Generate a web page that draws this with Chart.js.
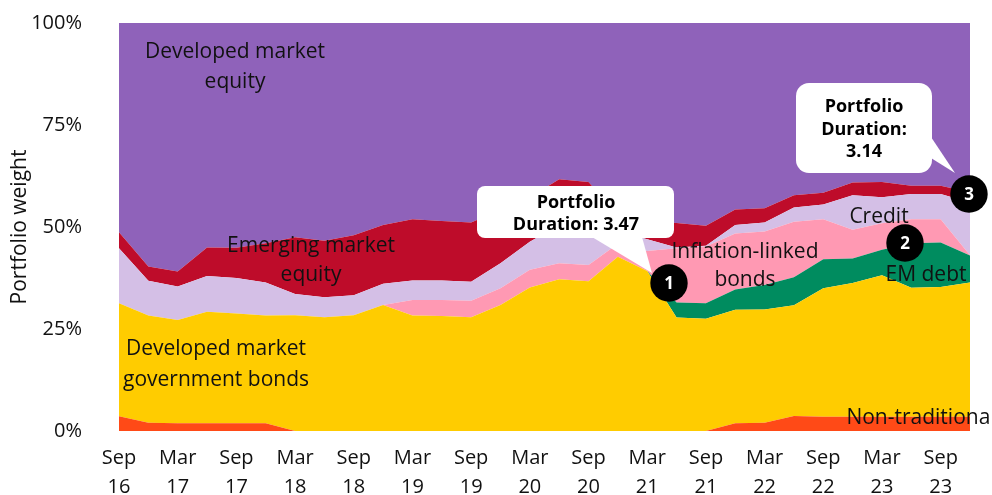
<!DOCTYPE html>
<html><head><meta charset="utf-8">
<style>html,body{margin:0;padding:0;background:#fff}#w{position:relative;width:992px;height:495px}</style>
<script src="https://cdn.jsdelivr.net/npm/chart.js@4"></script></head>
<body><div id="w"><canvas id="c" width="992" height="495"></canvas></div>
<script>
const categories=['Sep 16','Dec 16','Mar 17','Jun 17','Sep 17','Dec 17','Mar 18','Jun 18','Sep 18','Dec 18','Mar 19','Jun 19','Sep 19','Dec 19','Mar 20','Jun 20','Sep 20','Dec 20','Mar 21','Jun 21','Sep 21','Dec 21','Mar 22','Jun 22','Sep 22','Dec 22','Mar 23','Jun 23','Sep 23','Dec 23'];
const nonTraditional=[3.6,2.0,1.9,1.9,1.9,1.9,0,0,0,0,0,0,0,0,0,0,0,0,0,0,0,1.9,2.0,3.7,3.5,3.5,3.5,3.5,3.5,3.5];
const dmGovBonds=[27.7,26.3,25.3,27.3,26.9,26.4,28.4,27.9,28.4,30.9,28.3,28.2,27.9,30.9,35.2,37.2,36.7,42.7,39.2,27.8,27.5,27.8,27.8,27.1,31.5,32.8,34.7,31.6,31.8,32.9];
const emDebt=[0,0,0,0,0,0,0,0,0,0,0,0,0,0,0,0,0,0,0,3.7,3.8,5.0,6.0,6.9,7.1,6.0,6.2,10.9,10.9,6.6];
const inflationLinked=[0,0,0,0,0,0,0,0,0,0,3.8,3.9,4.0,4.1,4.3,3.9,4.0,3.2,4.9,13.3,13.9,13.7,13.1,13.6,9.8,7.0,6.5,5.9,5.7,0.1];
const credit=[13.5,8.5,8.2,8.8,8.7,8.1,5.2,4.9,4.9,5.2,4.8,4.8,4.7,6.1,6.9,9.4,9.8,3.1,2.9,0.2,0.2,2.1,2.2,3.5,3.6,8.5,6.4,6.2,6.2,12.9];
const emEquity=[3.9,3.5,3.7,7,7.4,9.6,13.9,13.8,14.7,14.4,15,14.6,14.5,13.1,10.9,11.2,10.5,4,4.5,6,4.9,3.8,3.5,3,2.9,3.1,3.7,2,2,2.5];
const dmEquity=[51.3,59.7,60.9,55,55.1,54,52.5,53.4,52,49.5,48.1,48.5,48.9,45.8,42.7,38.3,39,47,48.5,49,49.7,45.7,45.4,42.2,41.6,39.1,39,39.9,39.9,41.5];
const yTicks=[0,25,50,75,100];

const series=[
 ['Non-traditional',nonTraditional,'#FF4A17'],
 ['Developed market government bonds',dmGovBonds,'#FFCC00'],
 ['EM debt',emDebt,'#008C5F'],
 ['Inflation-linked bonds',inflationLinked,'#FF99B3'],
 ['Credit',credit,'#D4BFE6'],
 ['Emerging market equity',emEquity,'#BE0C2A'],
 ['Developed market equity',dmEquity,'#8F62BA']
];
const labelFont='21px "Open Sans", sans-serif';
const areaLabels=[
 ['Developed market',235,52.5],['equity',235,82.5],
 ['Emerging market',311,246.5],['equity',311,275.5],
 ['Developed market',216,349.5],['government bonds',216,380.5],
 ['Inflation-linked',745,252.5],['bonds',745,280.5],
 ['Credit',879,217.5],['EM debt',926,275.5],['Non-traditional',921,418.5]
];
function rr(ctx,x,y,w,h,r){ctx.beginPath();ctx.roundRect(x,y,w,h,r);ctx.fill();}
const overlay={id:'overlay',afterDatasetsDraw(ch){
 const c=ch.ctx;c.save();
 c.fillStyle='#111';c.font=labelFont;c.textAlign='center';c.textBaseline='middle';
 areaLabels.forEach(l=>c.fillText(l[0],l[1],l[2]));
 c.fillStyle='#fff';
 rr(c,477,186,197,52,8);
 c.beginPath();c.moveTo(592,237);c.lineTo(652,273);c.lineTo(642,237);c.closePath();c.fill();
 rr(c,796,83,136,90,13);
 c.beginPath();c.moveTo(931,137);c.lineTo(955,173);c.lineTo(931,158);c.closePath();c.fill();
 c.fillStyle='#000';c.font='bold 18px "Open Sans", sans-serif';
 c.fillText('Portfolio',576,203);c.fillText('Duration: 3.47',576,225);
 c.fillText('Portfolio',864,107);c.fillText('Duration:',864,130);c.fillText('3.14',864,152);
 [[669,283,'1'],[905,243,'2'],[969,194,'3']].forEach(b=>{
  c.fillStyle='#000';c.beginPath();c.arc(b[0],b[1],18.7,0,Math.PI*2);c.fill();
  c.fillStyle='#fff';c.font='bold 17px "Open Sans", sans-serif';c.fillText(b[2],b[0],b[1]+1);
 });
 c.restore();
}};
new Chart(document.getElementById('c'),{
 type:'line',
 data:{labels:categories,datasets:series.map((s,i)=>({label:s[0],data:s[1],backgroundColor:s[2],borderColor:s[2],borderWidth:0,pointRadius:0,tension:0,fill:i===0?'origin':'-1'}))},
 options:{responsive:false,animation:false,
  layout:{padding:{top:23,right:22,left:0,bottom:0}},
  plugins:{legend:{display:false},tooltip:{enabled:false}},
  scales:{
   x:{stacked:true,offset:false,grid:{display:false,drawTicks:false},border:{display:false},
    afterFit(a){a.height=64;a.paddingLeft=0;a.paddingRight=0;},
    ticks:{autoSkip:false,maxRotation:0,minRotation:0,padding:13,color:'#111',font:{family:'"Open Sans", sans-serif',size:20,lineHeight:1.45},
     callback(v,i){return i%2===0?categories[i].split(' '):'';}}},
   y:{stacked:true,min:0,max:100,grid:{display:false,drawTicks:false},border:{display:false},
    afterFit(a){a.width=119;a.paddingTop=0;a.paddingBottom=0;},
    afterBuildTicks(a){a.ticks=yTicks.map(v=>({value:v}));},
    title:{display:true,text:'Portfolio weight',color:'#111',padding:{top:7,bottom:0},font:{family:'"Open Sans", sans-serif',size:21}},
    ticks:{padding:37,color:'#111',font:{family:'"Open Sans", sans-serif',size:20},callback:v=>v+'%'}}
  }
 },plugins:[overlay]});
</script></body></html>
